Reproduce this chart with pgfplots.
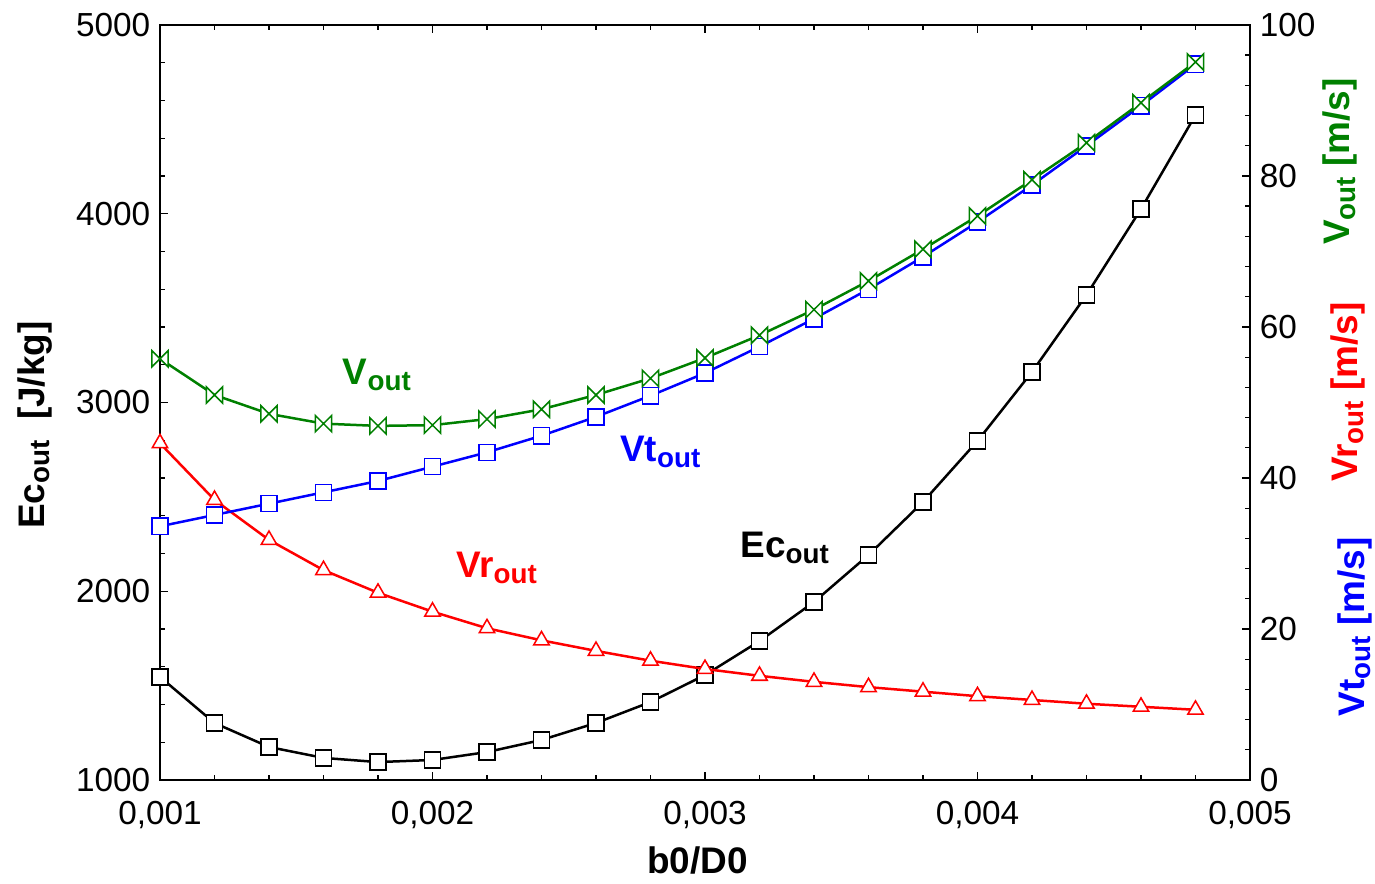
\documentclass[border=0pt]{standalone}
\usepackage{pgfplots}
\pgfplotsset{compat=1.18}
\usepackage{fontspec}
\setmainfont{Liberation Sans}
\definecolor{vgreen}{RGB}{0,128,0}
\pgfdeclareplotmark{bowtie}{%
  \pgfpathmoveto{\pgfqpoint{-\pgfplotmarksize}{-\pgfplotmarksize}}%
  \pgfpathlineto{\pgfqpoint{\pgfplotmarksize}{\pgfplotmarksize}}%
  \pgfpathlineto{\pgfqpoint{\pgfplotmarksize}{-\pgfplotmarksize}}%
  \pgfpathlineto{\pgfqpoint{-\pgfplotmarksize}{\pgfplotmarksize}}%
  \pgfpathclose
  \pgfusepathqfillstroke}
\newcommand{\tickfont}{\fontsize{12}{14}\selectfont}
\newcommand{\labfont}{\fontsize{13.3}{16}\selectfont\bfseries}
\newcommand{\sub}[1]{\raisebox{-0.3ex}{\fontsize{10}{12}\selectfont #1}}
\begin{document}
\begin{tikzpicture}
\useasboundingbox (-57.6pt,-37.44pt) rectangle (437.4pt,280.8pt);
\begin{axis}[
  scale only axis, width=392.4pt, height=271.8pt,
  at={(0,0)}, anchor=south west,
  xmin=0.001, xmax=0.005, ymin=1000, ymax=5000,
  scaled x ticks=false, scaled y ticks=false,
  xtick={0.001,0.002,0.003,0.004,0.005},
  xticklabels={{0,001},{0,002},{0,003},{0,004},{0,005}},
  ytick={1000,2000,3000,4000,5000},
  minor x tick num=4, minor y tick num=4,
  tick align=inside, xtick pos=both, ytick pos=left,
  major tick length=2.9pt, minor tick length=1.7pt,
  tick style={black, line width=0.5pt},
  axis line style={line width=0.7pt},
  /pgf/number format/1000 sep={},
  /pgf/number format/assume math mode=true,
  tick label style={font=\tickfont},
  xticklabel style={yshift=-4pt},
  xlabel={b0/D0},
  xlabel style={font=\labfont, at={(rel axis cs:0.493,-0.106)}, anchor=center},
  ylabel={Ec\sub{out}\ \ [J/kg]},
  ylabel style={font=\labfont, at={(rel axis cs:-0.115,0.47)}, anchor=center, rotate=0},
  clip=false,
]
\addplot[black, line width=0.9pt, mark=square*, mark size=2.9pt,
  mark options={fill=white, line width=0.55pt, solid}] coordinates {
(0.0010,1546) (0.0012,1302) (0.0014,1175) (0.0016,1117) (0.0018,1095)
(0.0020,1106) (0.0022,1148) (0.0024,1212) (0.0026,1302) (0.0028,1413)
(0.0030,1556) (0.0032,1736) (0.0034,1943) (0.0036,2192) (0.0038,2473)
(0.0040,2796) (0.0042,3162) (0.0044,3570) (0.0046,4025) (0.0048,4523)};
\node[font=\labfont, text=black] at (rel axis cs:0.573,0.307) {Ec\sub{out}};
\node[font=\labfont, text=vgreen] at (rel axis cs:0.199,0.536) {V\sub{out}};
\node[font=\labfont, text=blue] at (rel axis cs:0.459,0.434) {Vt\sub{out}};
\node[font=\labfont, text=red] at (rel axis cs:0.309,0.281) {Vr\sub{out}};
\node[font=\labfont, text=vgreen, rotate=90] at (rel axis cs:1.0826,0.819) {V\sub{out} [m/s]};
\node[font=\labfont, text=red, rotate=90] at (rel axis cs:1.090,0.514) {Vr\sub{out} [m/s]};
\node[font=\labfont, text=blue, rotate=90] at (rel axis cs:1.096,0.203) {Vt\sub{out} [m/s]};
\end{axis}
\begin{axis}[
  scale only axis, width=392.4pt, height=271.8pt,
  at={(0,0)}, anchor=south west,
  xmin=0.001, xmax=0.005, ymin=0, ymax=100,
  axis x line=none, axis y line*=right,
  ytick={0,20,40,60,80,100}, minor y tick num=4,
  tick align=inside,
  major tick length=2.9pt, minor tick length=1.7pt,
  tick style={black, line width=0.5pt},
  axis line style={line width=0.7pt, -},
  /pgf/number format/assume math mode=true,
  tick label style={font=\tickfont},
]
\addplot[red, line width=0.9pt, mark=triangle*, mark size=3.2pt,
  mark options={fill=white, line width=0.55pt, solid}] coordinates {
(0.0010,44.6) (0.0012,37.1) (0.0014,31.8) (0.0016,27.8) (0.0018,24.8)
(0.0020,22.3) (0.0022,20.1) (0.0024,18.5) (0.0026,17.1) (0.0028,15.8)
(0.0030,14.7) (0.0032,13.8) (0.0034,13.0) (0.0036,12.3) (0.0038,11.7)
(0.0040,11.1) (0.0042,10.6) (0.0044,10.1) (0.0046,9.7) (0.0048,9.3)};
\addplot[blue, line width=0.9pt, mark=square*, mark size=2.9pt,
  mark options={fill=white, line width=0.55pt, solid}] coordinates {
(0.0010,33.6) (0.0012,35.1) (0.0014,36.6) (0.0016,38.1) (0.0018,39.6)
(0.0020,41.5) (0.0022,43.4) (0.0024,45.6) (0.0026,48.1) (0.0028,50.9)
(0.0030,53.9) (0.0032,57.4) (0.0034,61.1) (0.0036,65.0) (0.0038,69.3)
(0.0040,73.9) (0.0042,78.8) (0.0044,84.0) (0.0046,89.3) (0.0048,94.8)};
\addplot[vgreen, line width=0.9pt, mark=bowtie, mark size=2.9pt,
  mark options={fill=white, line width=0.55pt, solid}] coordinates {
(0.0010,55.8) (0.0012,51.0) (0.0014,48.5) (0.0016,47.2) (0.0018,46.9)
(0.0020,47.0) (0.0022,47.8) (0.0024,49.1) (0.0026,51.0) (0.0028,53.2)
(0.0030,55.9) (0.0032,58.9) (0.0034,62.3) (0.0036,66.1) (0.0038,70.3)
(0.0040,74.7) (0.0042,79.5) (0.0044,84.4) (0.0046,89.7) (0.0048,95.1)};
\end{axis}
\end{tikzpicture}
\end{document}
